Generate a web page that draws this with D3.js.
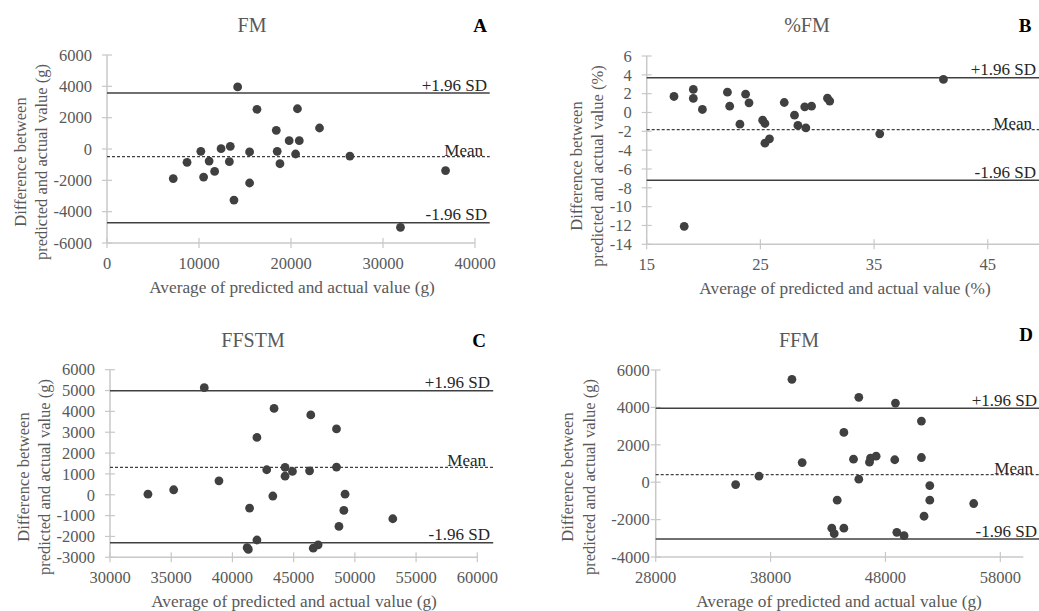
<!DOCTYPE html>
<html>
<head>
<meta charset="utf-8">
<script src="https://cdn.jsdelivr.net/npm/d3@7"></script>
<style>
  body { margin: 0; background: #fff; }
  text { font-family: "Liberation Serif", "Times New Roman", serif; }
</style>
</head>
<body>
<svg id="chart" width="1039" height="611"></svg>
<script>
// values
var fmAvg = [7200, 8700, 10200, 10500, 11100, 11700, 12400, 13300, 13400, 13800, 14200, 15500, 15500, 16300, 18400, 18500, 18800, 19800, 20500, 20700, 20900, 23100, 26400, 31900, 36800];
var fmDiff = [-1890, -850, -150, -1790, -770, -1430, 20, -810, 170, -3260, 3960, -190, -2170, 2530, 1190, -150, -940, 530, -320, 2570, 530, 1340, -450, -5000, -1380];
var fmLimits = [3570, -490, -4700];
var fmXTicks = [0, 10000, 20000, 30000, 40000];
var fmYTicks = [-6000, -4000, -2000, 0, 2000, 4000, 6000];

var pfmAvg = [17.4, 19.1, 19.1, 19.9, 18.3, 22.1, 22.3, 23.2, 23.7, 24.0, 25.2, 25.4, 25.4, 25.8, 27.1, 28.0, 28.3, 28.9, 29.0, 29.5, 30.9, 31.1, 35.5, 41.1];
var pfmDiff = [1.70, 2.45, 1.49, 0.32, -12.09, 2.16, 0.67, -1.24, 1.95, 1.03, -0.82, -1.17, -3.26, -2.80, 1.06, -0.28, -1.38, 0.60, -1.63, 0.67, 1.52, 1.21, -2.27, 3.51];
var pfmLimits = [3.69, -1.81, -7.2];
var pfmXTicks = [15, 25, 35, 45];
var pfmYTicks = [-14, -12, -10, -8, -6, -4, -2, 0, 2, 4, 6];

var ffstmAvg = [33100, 35200, 37700, 38900, 41200, 41300, 41400, 42000, 42000, 42800, 43300, 43400, 44300, 44300, 44900, 46300, 46400, 46600, 47000, 48500, 48500, 48700, 49100, 49200, 53100];
var ffstmDiff = [30, 240, 5140, 670, -2540, -2620, -640, 2750, -2170, 1200, -60, 4140, 1310, 890, 1120, 1150, 3830, -2560, -2400, 3160, 1330, -1520, -750, 30, -1150];
var ffstmLimits = [4990, 1310, -2300];
var ffstmXTicks = [30000, 35000, 40000, 45000, 50000, 55000, 60000];
var ffstmYTicks = [-3000, -2000, -1000, 0, 1000, 2000, 3000, 4000, 5000, 6000];

var ffmAvg = [34960, 36990, 39860, 40750, 43330, 43540, 43800, 44380, 44380, 45220, 45680, 45680, 46610, 46700, 47190, 48810, 48870, 48990, 49620, 51130, 51130, 51360, 51860, 51860, 55680];
var ffmDiff = [-125, 320, 5500, 1050, -2460, -2750, -960, 2660, -2460, 1230, 4540, 160, 1070, 1290, 1390, 1200, 4230, -2680, -2860, 3270, 1320, -1820, -180, -960, -1140];
var ffmLimits = [3950, 410, -3040];
var ffmXTicks = [28000, 38000, 48000, 58000];
var ffmYTicks = [-4000, -2000, 0, 2000, 4000, 6000];

var limitNames = ["+1.96 SD", "Mean", "-1.96 SD"];

var svg = d3.select("#chart");

function drawPanel(p) {
	var x = d3.scaleLinear().domain(p.xDomain).range(p.xRange);
	var y = d3.scaleLinear().domain(p.yDomain).range(p.yRange);
	var g = svg.append("g").attr("class", "panel");
	var x0 = x(p.xDomain[0]), yBot = y(p.yDomain[0]);

	// axes (light grey, ticks crossing the line)
	g.append("line")
		.attr("x1", x0).attr("x2", x0)
		.attr("y1", y(p.yDomain[1])).attr("y2", yBot)
		.attr("stroke", "#c8c8c8").attr("stroke-width", 1.5);
	g.append("line")
		.attr("x1", x0).attr("x2", x(p.xAxisEnd))
		.attr("y1", yBot).attr("y2", yBot)
		.attr("stroke", "#c8c8c8").attr("stroke-width", 1.5);

	g.selectAll(".yt").data(p.yTicks).enter().append("line")
		.attr("x1", x0 - 5).attr("x2", x0 + 5)
		.attr("y1", function (d) { return y(d); })
		.attr("y2", function (d) { return y(d); })
		.attr("stroke", "#c8c8c8").attr("stroke-width", 1.2);
	g.selectAll(".xt").data(p.xTicks).enter().append("line")
		.attr("x1", function (d) { return x(d); })
		.attr("x2", function (d) { return x(d); })
		.attr("y1", yBot - 5).attr("y2", yBot + 5)
		.attr("stroke", "#c8c8c8").attr("stroke-width", 1.2);

	g.selectAll(".yl").data(p.yTicks).enter().append("text")
		.attr("x", x0 - p.yLabelGap)
		.attr("y", function (d) { return y(d); })
		.attr("dy", "0.35em")
		.attr("text-anchor", "end")
		.attr("font-size", 16.5)
		.attr("fill", "#595959")
		.text(function (d) { return d; });
	g.selectAll(".xl").data(p.xTicks).enter().append("text")
		.attr("x", function (d) { return x(d); })
		.attr("y", yBot + 26)
		.attr("text-anchor", "middle")
		.attr("font-size", 16.5)
		.attr("fill", "#595959")
		.text(function (d) { return d; });

	// limit lines
	g.selectAll(".lim").data(p.limits).enter().append("line")
		.attr("x1", x0).attr("x2", x(p.lineEnd))
		.attr("y1", function (d) { return y(d); })
		.attr("y2", function (d) { return y(d); })
		.attr("stroke", "#404040")
		.attr("stroke-width", function (d, i) { return i == 1 ? 1.2 : 1.5; })
		.attr("stroke-dasharray", function (d, i) { return i == 1 ? "3,2" : null; });

	g.selectAll(".limtxt").data(p.limits).enter().append("text")
		.attr("x", function (d, i) { return i == 1 ? p.labelX - 4 : p.labelX; })
		.attr("y", function (d, i) { return y(d) - (i == 1 ? 1 : 2.5); })
		.attr("text-anchor", "end")
		.attr("font-size", 17)
		.attr("fill", "#262626")
		.text(function (d, i) { return limitNames[i]; });

	// points
	g.selectAll("circle").data(p.avg).enter().append("circle")
		.attr("cx", function (d) { return x(d); })
		.attr("cy", function (d, i) { return y(p.diff[i]); })
		.attr("r", 4.4)
		.attr("fill", "#404040");

	// titles
	g.append("text")
		.attr("x", p.titleX).attr("y", p.titleY)
		.attr("text-anchor", "middle")
		.attr("font-size", 20)
		.attr("fill", "#595959")
		.text(p.title);
	g.append("text")
		.attr("x", p.letterX).attr("y", p.letterY)
		.attr("text-anchor", "middle")
		.attr("font-size", 19)
		.attr("font-weight", "bold")
		.attr("fill", "#000")
		.text(p.letter);

	g.append("text")
		.attr("x", p.xTitleX).attr("y", yBot + 50)
		.attr("text-anchor", "middle")
		.attr("font-size", 17.3)
		.attr("fill", "#595959")
		.text(p.xTitle);

	var yt = g.append("g")
		.attr("transform", "translate(0," + p.yTitleY + ")");
	yt.append("text")
		.attr("transform", "translate(" + p.yTitleX[0] + ",0) rotate(-90)")
		.attr("text-anchor", "middle")
		.attr("font-size", 16.5)
		.attr("fill", "#595959")
		.text("Difference between");
	yt.append("text")
		.attr("transform", "translate(" + p.yTitleX[1] + ",0) rotate(-90)")
		.attr("text-anchor", "middle")
		.attr("font-size", 16.5)
		.attr("fill", "#595959")
		.text(p.yTitle2);
}

drawPanel({
	avg: fmAvg, diff: fmDiff, limits: fmLimits, xTicks: fmXTicks, yTicks: fmYTicks,
	xDomain: [0, 40000], xRange: [107, 475], yDomain: [-6000, 6000], yRange: [243, 55],
	xAxisEnd: 40000, lineEnd: 41600, labelX: 487, yLabelGap: 15,
	title: "FM", titleX: 252, titleY: 32, letter: "A", letterX: 480, letterY: 32,
	xTitle: "Average of predicted and actual value (g)", xTitleX: 292,
	yTitle2: "predicted and actual value (g)", yTitleX: [26, 47], yTitleY: 162
});

drawPanel({
	avg: pfmAvg, diff: pfmDiff, limits: pfmLimits, xTicks: pfmXTicks, yTicks: pfmYTicks,
	xDomain: [15, 50], xRange: [646.7, 1044.6], yDomain: [-14, 6], yRange: [244.3, 56],
	xAxisEnd: 50, lineEnd: 50, labelX: 1036, yLabelGap: 15,
	title: "%FM", titleX: 807, titleY: 32, letter: "B", letterX: 1025, letterY: 32,
	xTitle: "Average of predicted and actual value (%)", xTitleX: 845,
	yTitle2: "predicted and actual value (%)", yTitleX: [582, 603], yTitleY: 166
});

drawPanel({
	avg: ffstmAvg, diff: ffstmDiff, limits: ffstmLimits, xTicks: ffstmXTicks, yTicks: ffstmYTicks,
	xDomain: [30000, 60000], xRange: [110, 477.3], yDomain: [-3000, 6000], yRange: [557.3, 369.7],
	xAxisEnd: 60000, lineEnd: 61300, labelX: 490, yLabelGap: 15,
	title: "FFSTM", titleX: 253, titleY: 347, letter: "C", letterX: 479, letterY: 347,
	xTitle: "Average of predicted and actual value (g)", xTitleX: 294,
	yTitle2: "predicted and actual value (g)", yTitleX: [29, 50], yTitleY: 477
});

drawPanel({
	avg: ffmAvg, diff: ffmDiff, limits: ffmLimits, xTicks: ffmXTicks, yTicks: ffmYTicks,
	xDomain: [28000, 60000], xRange: [655.7, 1023.3], yDomain: [-4000, 6000], yRange: [557, 370],
	xAxisEnd: 60000, lineEnd: 62000, labelX: 1037, yLabelGap: 6,
	title: "FFM", titleX: 799, titleY: 347, letter: "D", letterX: 1026, letterY: 341,
	xTitle: "Average of predicted and actual value (g)", xTitleX: 839,
	yTitle2: "predicted and actual value (g)", yTitleX: [573, 595], yTitleY: 477
});
</script>
</body>
</html>
